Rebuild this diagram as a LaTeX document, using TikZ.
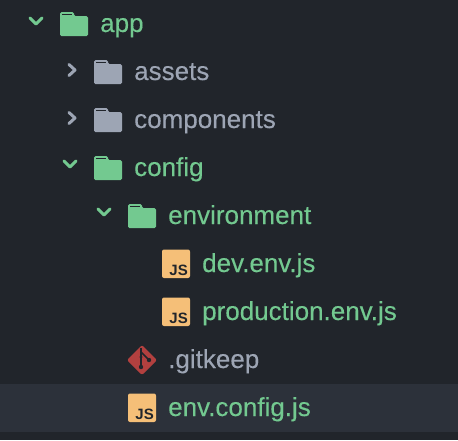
\documentclass[tikz,border=0pt]{standalone}
\usepackage{fontspec}
\setmainfont{Liberation Sans}
\newfontfamily\entryfont[RawFeature={embolden=0.25}]{Liberation Sans}
\usetikzlibrary{positioning}
\definecolor{mbg}{HTML}{21252B}
\definecolor{mrow}{HTML}{2C313A}
\definecolor{mgreen}{HTML}{73C990}
\definecolor{mgray}{HTML}{9DA5B4}
\definecolor{mjs}{HTML}{F5BF78}
\definecolor{mgit}{HTML}{B2403F}
\tikzset{
  entry/.style={anchor=base west, inner sep=0pt, font=\entryfont\fontsize{26}{26}\selectfont},
  tree/.style={entry, text=mgreen},
  plain/.style={entry, text=mgray},
  chev/.style={line width=3pt, line cap=round, line join=round},
  jsmark/.style={inner sep=0pt, text=mbg, font=\fontsize{15}{15}\selectfont\bfseries},
  foldericon/.pic={
    \fill[rounded corners=1.5pt, pic actions] (0,-12) -- (0,12) -- (28,12) -- (28,-8) -- (14,-8) -- (14,-12) -- cycle;
    \fill[mbg] (2,-10.5) rectangle (12,-9);
  },
  jsicon/.pic={
    \fill[mjs, rounded corners=2pt] (-14,-14.5) rectangle (14,14);
  },
}
\begin{document}
\begin{tikzpicture}[x=1pt, y=-1pt]
  \useasboundingbox (0,0) rectangle (458,440);
  \fill[mbg] (0,0) rectangle (458,440);
  \fill[mrow] (0,384) rectangle (458,432);

  % folders
  \pic[fill=mgreen] at (60,24) {foldericon};
  \pic[fill=mgray] at (94,72) {foldericon};
  \pic[fill=mgray] at (94,120) {foldericon};
  \pic[fill=mgreen] at (94,168) {foldericon};
  \pic[fill=mgreen] at (128,216) {foldericon};

  % chevrons
  \draw[chev, mgreen] (30,18) -- (36,24) -- (42,18);
  \draw[chev, mgray] (69,64.5) -- (75,70) -- (69,75.5);
  \draw[chev, mgray] (69,112.5) -- (75,118) -- (69,123.5);
  \draw[chev, mgreen] (64,161) -- (70,167) -- (76,161);
  \draw[chev, mgreen] (98,209) -- (104,215) -- (110,209);

  % labels
  \node[tree] (app) at (100,32) {app};
  \node[plain] (assets) at (134,80) {assets};
  \node[plain] (components) at (134,128) {components};
  \node[tree] (config) at (134,176) {config};
  \node[tree] (environment) at (168,224) {environment};
  \node[tree] (dev) at (202,272) {dev.env.js};
  \node[tree] (production) at (202,320) {production.env.js};
  \node[plain] (gitkeep) at (168,368) {.gitkeep};
  \node[tree] (envconfig) at (168,416) {env.config.js};

  % js files
  \pic at (176,264) {jsicon};
  \node[jsmark, anchor=base east] (jsa) at (188,275) {JS};
  \pic at (176,312) {jsicon};
  \node[jsmark, anchor=base east] (jsb) at (188,323) {JS};
  \pic at (142,408) {jsicon};
  \node[jsmark, anchor=base east] (jsc) at (154,419) {JS};

  % git
  \fill[mgit, rounded corners=2pt] (127,360) -- (142,345) -- (157,360) -- (142,375) -- cycle;
  \draw[mbg, line width=1.6pt] (141,348) -- (141,368);
  \draw[mbg, line width=1.6pt] (141,352) -- (149,360);
  \fill[mbg] (141,367) circle (2.2pt) (149,360) circle (2.2pt) (141,357) circle (1.6pt);
\end{tikzpicture}
\end{document}
